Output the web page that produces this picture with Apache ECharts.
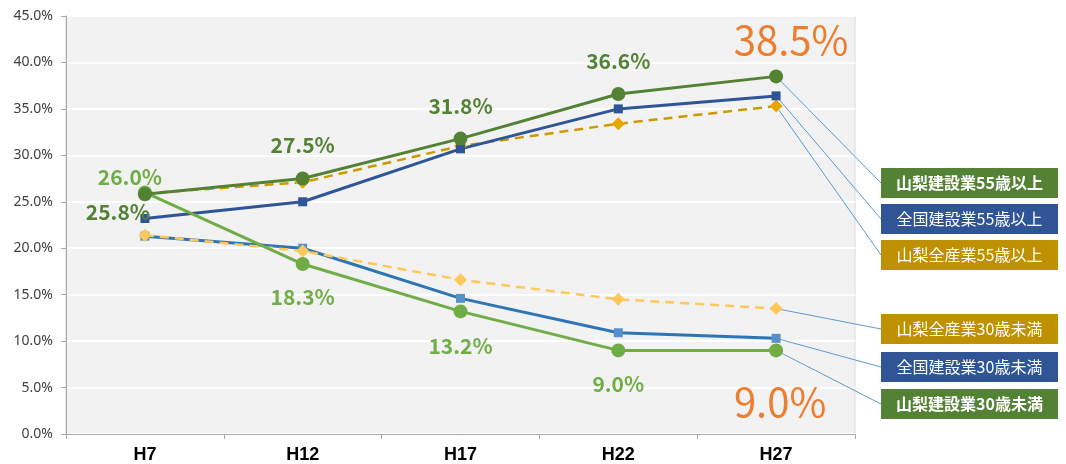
<!DOCTYPE html>
<html>
<head>
<meta charset="utf-8">
<script src="https://cdn.jsdelivr.net/npm/echarts@6/dist/echarts.min.js"></script>
<style>
  html, body { margin: 0; background: #fff; }
  #chart { width: 1066px; height: 464px; }
</style>
</head>
<body>
<div id="chart"></div>
<script>
// 年次
const years = ['H7', 'H12', 'H17', 'H22', 'H27']

// 割合 (%)
const yamanashiCon55 = [25.8, 27.5, 31.8, 36.6, 38.5]
const zenkokuCon55 = [23.2, 25.0, 30.7, 35.0, 36.4]
const yamanashiAll55 = [25.9, 27.1, 31.0, 33.4, 35.3]
const yamanashiAll30 = [21.4, 19.7, 16.6, 14.5, 13.5]
const zenkokuCon30 = [21.3, 20.0, 14.6, 10.9, 10.3]
const yamanashiCon30 = [26.0, 18.3, 13.2, 9.0, 9.0]

const JP = '"Noto Sans CJK JP", "Noto Sans", sans-serif'
const pct = v => v.toFixed(1) + '%'

// 数値ラベル付きデータ
function withLabels(values, color, offsets) {
  return values.map((v, i) => {
    const last = i === values.length - 1
    return {
      value: v,
      label: {
        show: true,
        position: 'inside',
        offset: offsets[i],
        formatter: p => pct(p.value),
        fontFamily: JP,
        fontSize: last ? 40 : 21,
        fontWeight: last ? 'normal' : 'bold',
        color: last ? '#ED7D31' : color
      }
    }
  })
}

function line(name, data, color, opt = {}) {
  return {
    name,
    type: 'line',
    data,
    symbol: opt.symbol || 'circle',
    symbolSize: opt.symbolSize || 8,
    lineStyle: { color, width: opt.width || 3, type: opt.dashed ? [9, 6] : 'solid' },
    itemStyle: { color: opt.markerColor || color },
    label: { show: false },
    emphasis: { disabled: true },
    z: opt.z || 2
  }
}

const series = [
  line('全国建設業30歳未満', zenkokuCon30, '#2E75B6', { symbol: 'rect', symbolSize: 9, markerColor: '#5590C8' }),
  line('山梨全産業30歳未満', yamanashiAll30, '#FFC85A', { symbol: 'diamond', symbolSize: 13, dashed: true, width: 2.5 }),
  line('山梨全産業55歳以上', yamanashiAll55, '#CC9A00', { symbol: 'diamond', symbolSize: 13, dashed: true, width: 2.5, markerColor: '#E6A800' }),
  line('全国建設業55歳以上', zenkokuCon55, '#2F5597', { symbol: 'rect', symbolSize: 9 }),
  line('山梨建設業30歳未満', withLabels(yamanashiCon30, '#70AD47',
    [[-15, -15], [0, 33], [0, 35], [0, 34], [4, 51]]), '#70AD47', { symbolSize: 14, z: 3 }),
  line('山梨建設業55歳以上', withLabels(yamanashiCon55, '#548235',
    [[-27, 18], [0, -34], [0, -33], [0, -33], [15, -37]]), '#548235', { symbolSize: 14, z: 4 })
]

const chart = echarts.init(document.getElementById('chart'))

chart.setOption({
  animation: false,
  grid: {
    left: 66, right: 211, top: 16, bottom: 30,
    containLabel: false,
    outerBoundsMode: 'none',
    show: true,
    backgroundColor: '#F2F2F2',
    borderColor: '#D9D9D9',
    borderWidth: 1
  },
  xAxis: {
    type: 'category',
    data: years,
    boundaryGap: true,
    axisLine: { lineStyle: { color: '#A6A6A6', width: 1 } },
    axisTick: { show: true, length: 5, lineStyle: { color: '#A6A6A6' } },
    axisLabel: {
      color: '#000',
      fontFamily: '"Liberation Sans Narrow", "Liberation Sans", sans-serif',
      fontWeight: 'bold',
      fontSize: 18,
      margin: 12
    }
  },
  yAxis: {
    type: 'value',
    min: 0,
    max: 45,
    interval: 5,
    axisLine: { show: true, lineStyle: { color: '#A6A6A6', width: 1 } },
    axisTick: { show: true, length: 5, lineStyle: { color: '#A6A6A6' } },
    splitLine: { lineStyle: { color: '#FFFFFF', width: 2 } },
    axisLabel: {
      formatter: v => pct(v),
      color: '#404040',
      fontFamily: '"Noto Sans", sans-serif',
      fontSize: 14,
      margin: 13
    }
  },
  series
})

// 凡例ボックスと引き出し線
const boxes = [
  { name: '山梨建設業55歳以上', values: yamanashiCon55, color: '#548235', top: 168, bold: true },
  { name: '全国建設業55歳以上', values: zenkokuCon55, color: '#2F5597', top: 204 },
  { name: '山梨全産業55歳以上', values: yamanashiAll55, color: '#BF9000', top: 240 },
  { name: '山梨全産業30歳未満', values: yamanashiAll30, color: '#BF9000', top: 314 },
  { name: '全国建設業30歳未満', values: zenkokuCon30, color: '#2F5597', top: 352 },
  { name: '山梨建設業30歳未満', values: yamanashiCon30, color: '#548235', top: 389, bold: true }
]

const BOX_X = 881
const BOX_W = 177
const BOX_H = 30
const lastIdx = years.length - 1

const graphics = []
boxes.forEach(b => {
  const p = chart.convertToPixel({ gridIndex: 0 }, [years[lastIdx], b.values[lastIdx]])
  graphics.push({
    type: 'line',
    z: 1,
    shape: { x1: p[0], y1: p[1], x2: BOX_X, y2: b.top + BOX_H / 2 },
    style: { stroke: '#5B9BD5', lineWidth: 1 }
  })
  graphics.push({
    type: 'rect',
    z: 5,
    shape: { x: BOX_X, y: b.top, width: BOX_W, height: BOX_H },
    style: { fill: b.color }
  })
  graphics.push({
    type: 'text',
    z: 6,
    x: BOX_X + BOX_W / 2,
    y: b.top + BOX_H / 2,
    style: {
      text: b.name,
      fill: '#fff',
      font: (b.bold ? 'bold ' : '') + '16px ' + JP,
      align: 'center',
      verticalAlign: 'middle'
    }
  })
})

chart.setOption({ graphic: graphics })
</script>
</body>
</html>
